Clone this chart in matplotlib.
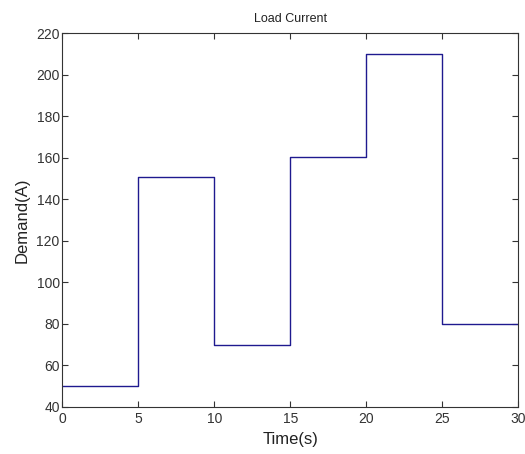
import numpy as np
import matplotlib
matplotlib.use('Agg')
import matplotlib.pyplot as plt

# interval edges (s) and the demand held over each interval (A)
time_edges = [0, 5, 10, 15, 20, 25, 30]
demand = [50, 150.5, 70, 160.5, 210, 80]

x_ticks = [0, 5, 10, 15, 20, 25, 30]
y_ticks = [40, 60, 80, 100, 120, 140, 160, 180, 200, 220]

plt.rcParams['font.family'] = ['Liberation Sans Narrow', 'Liberation Sans', 'DejaVu Sans']

fig = plt.figure(figsize=(5.25, 4.54), dpi=100)
ax = fig.add_axes([0.119, 0.104, 0.868, 0.823])

yvals = demand + [demand[-1]]
ax.step(time_edges, yvals, where='post', color='#1f1a8f', linewidth=1.0)

ax.set_xlim(0, 30)
ax.set_ylim(40, 220)
ax.set_xticks(x_ticks)
ax.set_yticks(y_ticks)
ax.tick_params(direction='in', top=True, right=True, length=4, width=0.8,
               labelsize=10, colors='#333333', labelcolor='#333333', pad=2)
ax.tick_params(axis='x', pad=4)
for sp in ax.spines.values():
    sp.set_color('#333333')
    sp.set_linewidth(0.8)

ax.set_title('Load Current', fontsize=9, pad=8, color='#222222')
ax.set_xlabel('Time(s)', fontsize=12, labelpad=4, color='#222222')
ax.set_ylabel('Demand(A)', fontsize=12, labelpad=5, color='#222222')

fig.savefig('out.png', dpi=100)
